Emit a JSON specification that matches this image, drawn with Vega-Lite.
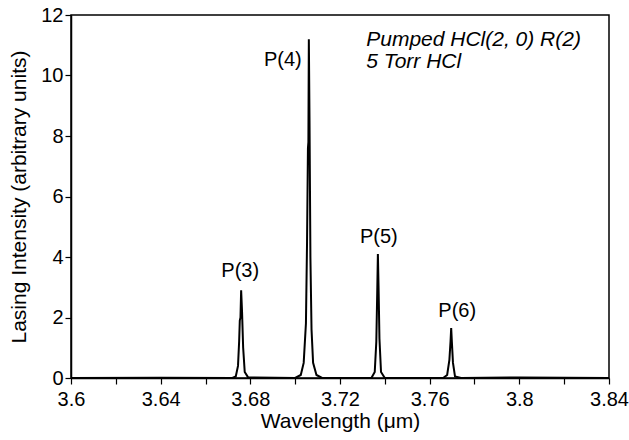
{
  "$schema": "https://vega.github.io/schema/vega-lite/v6.json",
  "width": 538,
  "height": 363,
  "autosize": "none",
  "padding": {"left": 71, "top": 15, "right": 20, "bottom": 62},
  "background": "white",
  "config": {
    "font": "Liberation Sans",
    "view": {"stroke": "black", "strokeWidth": 1.5},
    "axis": {
      "domainColor": "black", "domainWidth": 1.5, "tickColor": "black", "tickWidth": 1.2,
      "labelColor": "black", "titleColor": "black", "labelFontSize": 20, "titleFontSize": 21,
      "titleFontWeight": "normal", "grid": false, "tickSize": 6
    }
  },
  "datasets": {
    "spectrum": [
      {"w": 3.600, "i": 0}, {"w": 3.640, "i": 0.01}, {"w": 3.672, "i": 0},
      {"w": 3.6735, "i": 0.05}, {"w": 3.6745, "i": 0.4}, {"w": 3.675, "i": 1.2},
      {"w": 3.6753, "i": 1.9}, {"w": 3.6756, "i": 2.0}, {"w": 3.6759, "i": 2.9},
      {"w": 3.6763, "i": 2.2}, {"w": 3.6768, "i": 1.0}, {"w": 3.6775, "i": 0.2},
      {"w": 3.679, "i": 0.02}, {"w": 3.700, "i": 0}, {"w": 3.7025, "i": 0.1},
      {"w": 3.7038, "i": 0.5}, {"w": 3.7048, "i": 1.8}, {"w": 3.7053, "i": 4.5},
      {"w": 3.7057, "i": 7.6}, {"w": 3.7059, "i": 7.8}, {"w": 3.7061, "i": 11.2},
      {"w": 3.7064, "i": 8.5}, {"w": 3.7068, "i": 4.0}, {"w": 3.7073, "i": 1.6},
      {"w": 3.708, "i": 0.5}, {"w": 3.7095, "i": 0.1}, {"w": 3.712, "i": 0},
      {"w": 3.734, "i": 0}, {"w": 3.7355, "i": 0.2}, {"w": 3.7362, "i": 1.2},
      {"w": 3.7366, "i": 2.8}, {"w": 3.7369, "i": 4.1}, {"w": 3.7372, "i": 3.0},
      {"w": 3.7376, "i": 1.3}, {"w": 3.7383, "i": 0.2}, {"w": 3.740, "i": 0},
      {"w": 3.766, "i": 0}, {"w": 3.7678, "i": 0.1}, {"w": 3.7688, "i": 0.6},
      {"w": 3.7693, "i": 1.2}, {"w": 3.7696, "i": 1.65}, {"w": 3.7699, "i": 1.2},
      {"w": 3.7704, "i": 0.5}, {"w": 3.7713, "i": 0.05}, {"w": 3.774, "i": 0},
      {"w": 3.80, "i": 0.02}, {"w": 3.84, "i": 0}
    ],
    "labels": [
      {"w": 3.6755, "i": 3.55, "t": "P(3)"},
      {"w": 3.6945, "i": 10.5, "t": "P(4)"},
      {"w": 3.7373, "i": 4.65, "t": "P(5)"},
      {"w": 3.7723, "i": 2.2, "t": "P(6)"}
    ],
    "notes": [
      {"w": 3.7317, "i": 11.17, "t": "Pumped HCl(2, 0) R(2)"},
      {"w": 3.7317, "i": 10.46, "t": "5 Torr HCl"}
    ]
  },
  "layer": [
    {
      "data": {"name": "spectrum"},
      "mark": {"type": "line", "color": "black", "strokeWidth": 2},
      "encoding": {
        "x": {
          "field": "w", "type": "quantitative",
          "scale": {"domain": [3.6, 3.84], "nice": false, "zero": false},
          "axis": {
            "title": "Wavelength (μm)", "titlePadding": 1,
            "values": [3.6, 3.62, 3.64, 3.66, 3.68, 3.7, 3.72, 3.74, 3.76, 3.78, 3.8, 3.82, 3.84],
            "format": ".2~f",
            "labelExpr": "round(datum.value*100) % 4 == 0 ? datum.label : ''",
            "labelPadding": 5, "labelFlush": false
          }
        },
        "y": {
          "field": "i", "type": "quantitative",
          "scale": {"domain": [0, 12], "nice": false},
          "axis": {
            "title": "Lasing Intensity (arbitrary units)", "titlePadding": 11,
            "values": [0, 1, 2, 3, 4, 5, 6, 7, 8, 9, 10, 11, 12],
            "labelExpr": "datum.value % 2 == 0 ? datum.label : ''",
            "labelPadding": 2
          }
        }
      }
    },
    {
      "data": {"name": "labels"},
      "mark": {"type": "text", "fontSize": 20, "color": "black", "baseline": "middle", "align": "center"},
      "encoding": {
        "x": {"field": "w", "type": "quantitative"},
        "y": {"field": "i", "type": "quantitative"},
        "text": {"field": "t"}
      }
    },
    {
      "data": {"name": "notes"},
      "mark": {"type": "text", "fontSize": 21, "fontStyle": "italic", "color": "black", "baseline": "middle", "align": "left"},
      "encoding": {
        "x": {"field": "w", "type": "quantitative"},
        "y": {"field": "i", "type": "quantitative"},
        "text": {"field": "t"}
      }
    }
  ]
}
